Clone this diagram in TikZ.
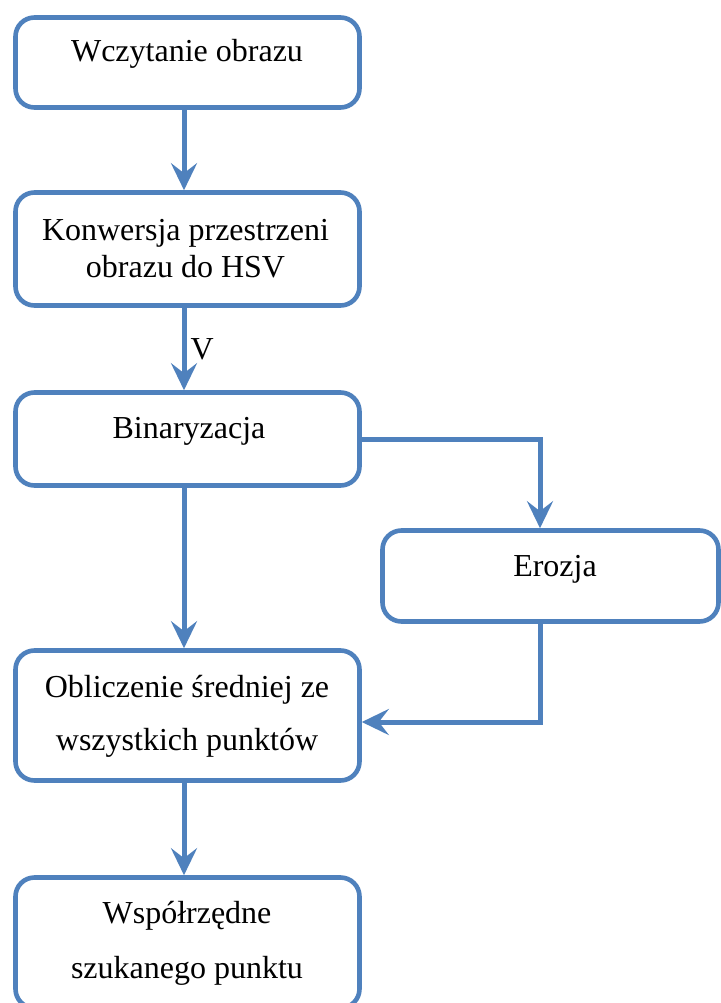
\documentclass[tikz,border=0pt]{standalone}
\usepackage{fontspec}
\setmainfont{Liberation Serif}
\usetikzlibrary{arrows.meta}
\definecolor{ofblue}{HTML}{4F81BD}
\begin{document}
\begin{tikzpicture}[x=1pt,y=-1pt,
  box/.style={draw=ofblue, line width=4.6pt, rounded corners=19pt, inner sep=0pt, fill=white},
  txt/.style={font=\fontsize{32}{38}\selectfont, anchor=base, inner sep=0pt},
  arr/.style={draw=ofblue, line width=5pt, -{Stealth[length=27pt,width=26pt,inset=10pt]}}]
\useasboundingbox (0,0) rectangle (720,1003);
\fill[white] (0,0) rectangle (720,1003);
\node[box, minimum width=344pt, minimum height=90pt] (b1) at (187.5,62.5) {};
\node[box, minimum width=344pt, minimum height=113pt] (b2) at (187.5,249) {};
\node[box, minimum width=344pt, minimum height=93pt] (b3) at (187.5,439) {};
\node[box, minimum width=336pt, minimum height=91pt] (b4) at (550.5,576) {};
\node[box, minimum width=344pt, minimum height=130pt] (b5) at (187.5,715.5) {};
\node[box, minimum width=344pt, minimum height=130.5pt] (b6) at (187.5,942.75) {};
\node[txt] (t1) at (187,62) {Wczytanie obrazu};
\node[txt] (t2a) at (185.5,240) {Konwersja przestrzeni};
\node[txt] (t2b) at (185.5,277) {obrazu do HSV};
\node[txt] (t3) at (189,438) {Binaryzacja};
\node[txt] (t4) at (555,576) {Erozja};
\node[txt] (t5a) at (187,697) {Obliczenie średniej ze};
\node[txt] (t5b) at (187,750) {wszystkich punktów};
\node[txt] (t6a) at (187,923) {Współrzędne};
\node[txt] (t6b) at (187,978) {szukanego punktu};
\coordinate (ax) at (184,0);
\coordinate (ex) at (540,0);
\coordinate (ry) at (0,722);
\draw[arr] (b1.south -| ax) -- (b2.north -| ax);
\draw[arr] (b2.south -| ax) -- node[txt, anchor=base west, xshift=4pt, yshift=-10pt] (v) {V} (b3.north -| ax);
\draw[arr] (b3.south -| ax) -- (b5.north -| ax);
\draw[arr] (b3.east) -| (b4.north -| ex);
\draw[arr] (b4.south -| ex) |- (b5.east |- ry);
\draw[arr] (b5.south -| ax) -- (b6.north -| ax);
\end{tikzpicture}
\end{document}
